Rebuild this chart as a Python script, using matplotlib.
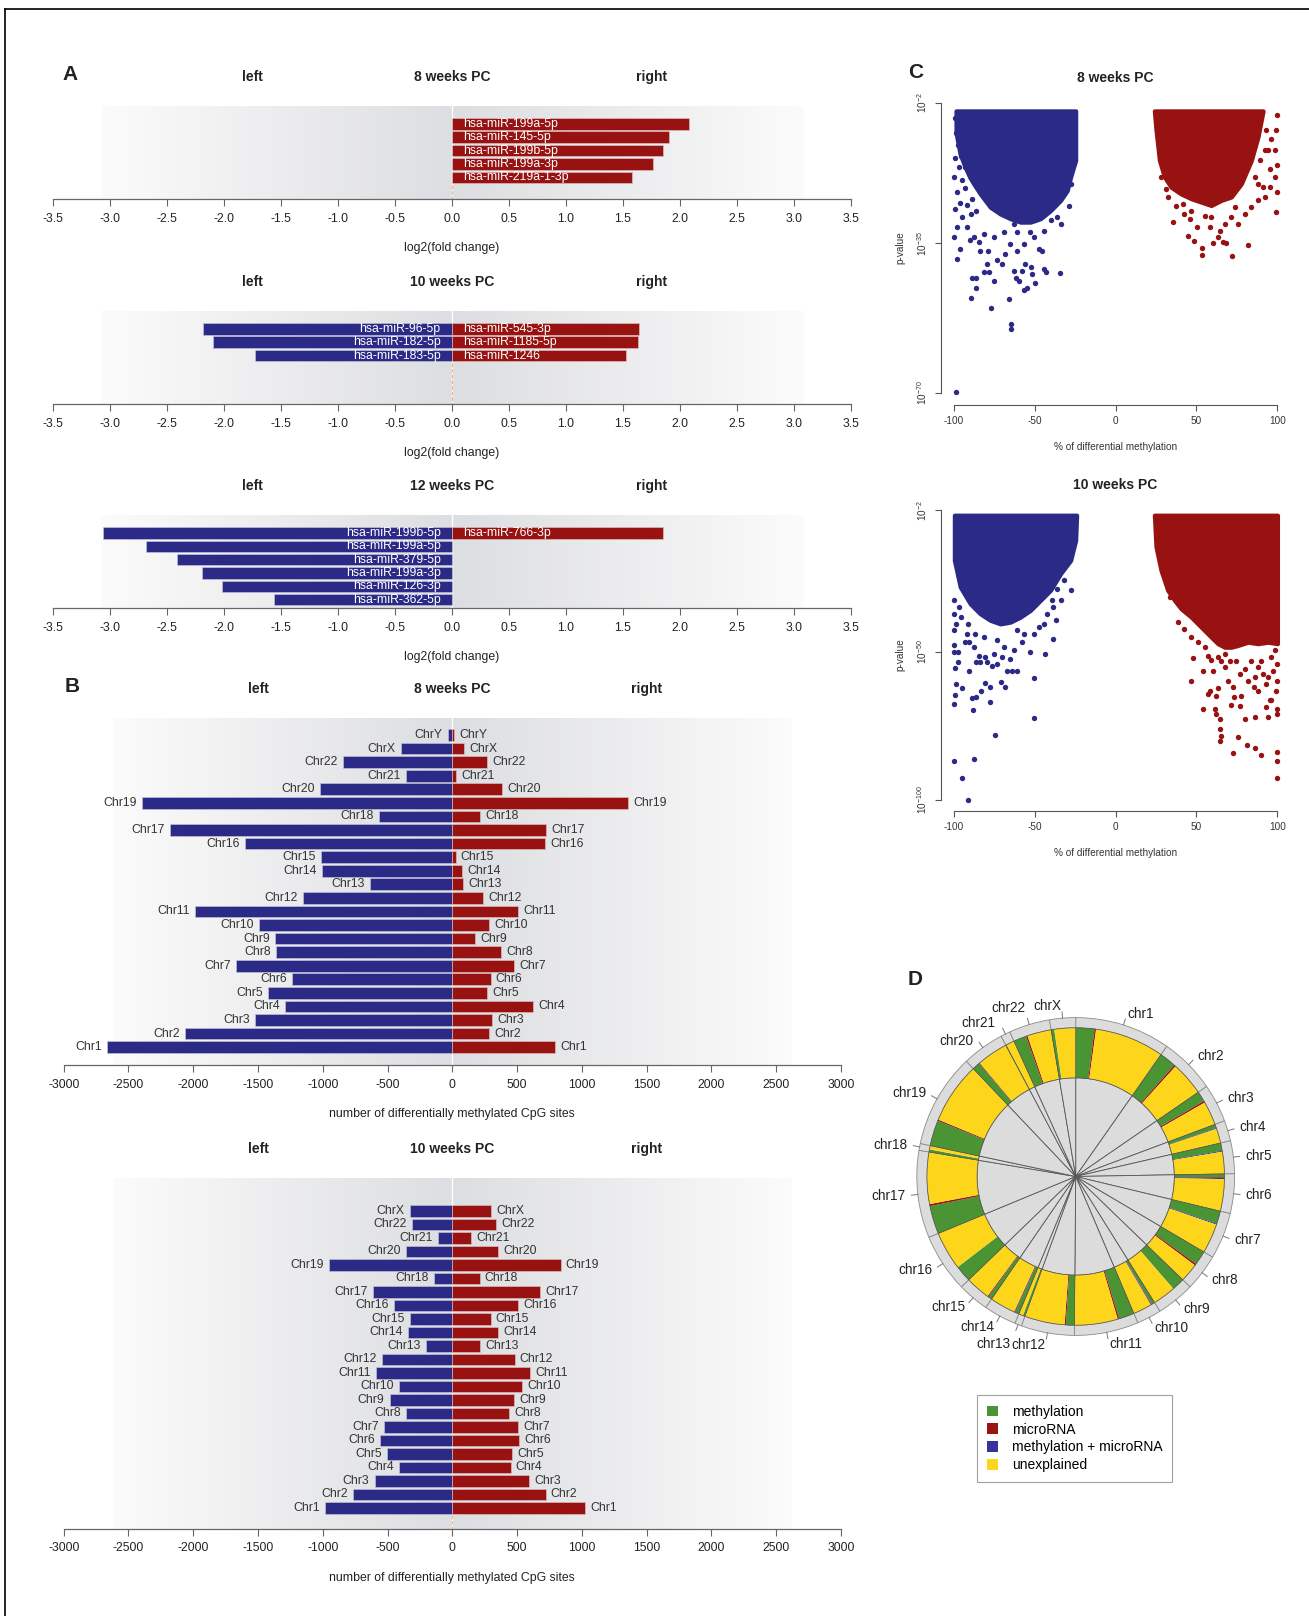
import numpy as np
import matplotlib
matplotlib.use('Agg')
import matplotlib.pyplot as plt
from matplotlib.patches import Wedge, Patch
from matplotlib.lines import Line2D

plt.rcParams['font.family'] = ['Liberation Sans', 'DejaVu Sans']
plt.rcParams['mathtext.fontset'] = 'custom'
plt.rcParams['mathtext.rm'] = 'Liberation Sans'
plt.rcParams['mathtext.it'] = 'Liberation Sans:italic'
plt.rcParams['mathtext.bf'] = 'Liberation Sans:bold'
NARROW = ['Liberation Sans Narrow', 'Liberation Sans', 'DejaVu Sans']

BLUE = '#2b2a87'
RED = '#981212'
GREEN = '#4a9434'
YELLOW = '#fdd61c'
DRED = '#9b1414'
DBLUE = '#34339a'

# ---------------- data: panel A (log2 fold change of miRNAs) ----------------
a8_left_names = []
a8_left_vals = []
a8_right_names = ['hsa-miR-199a-5p', 'hsa-miR-145-5p', 'hsa-miR-199b-5p',
                  'hsa-miR-199a-3p', 'hsa-miR-219a-1-3p']
a8_right_vals = [2.08, 1.90, 1.85, 1.76, 1.58]

a10_left_names = ['hsa-miR-96-5p', 'hsa-miR-182-5p', 'hsa-miR-183-5p']
a10_left_vals = [-2.18, -2.10, -1.73]
a10_right_names = ['hsa-miR-545-3p', 'hsa-miR-1185-5p', 'hsa-miR-1246']
a10_right_vals = [1.64, 1.63, 1.53]

a12_left_names = ['hsa-miR-199b-5p', 'hsa-miR-199a-5p', 'hsa-miR-379-5p',
                  'hsa-miR-199a-3p', 'hsa-miR-126-3p', 'hsa-miR-362-5p']
a12_left_vals = [-3.06, -2.68, -2.41, -2.19, -2.02, -1.56]
a12_right_names = ['hsa-miR-766-3p']
a12_right_vals = [1.85]

a_ticks = [-3.5, -3.0, -2.5, -2.0, -1.5, -1.0, -0.5, 0.0, 0.5, 1.0, 1.5, 2.0, 2.5, 3.0, 3.5]

# ---------------- data: panel B (differentially methylated CpG sites) ----------------
b8_chroms = ['ChrY', 'ChrX', 'Chr22', 'Chr21', 'Chr20', 'Chr19', 'Chr18', 'Chr17', 'Chr16',
             'Chr15', 'Chr14', 'Chr13', 'Chr12', 'Chr11', 'Chr10', 'Chr9', 'Chr8', 'Chr7',
             'Chr6', 'Chr5', 'Chr4', 'Chr3', 'Chr2', 'Chr1']
b8_left = [-35, -400, -845, -355, -1025, -2395, -565, -2180, -1600, -1015, -1010, -635,
           -1155, -1985, -1495, -1370, -1360, -1670, -1235, -1425, -1290, -1525, -2065, -2665]
b8_right = [15, 90, 270, 30, 385, 1355, 215, 725, 715, 25, 75, 85,
            235, 510, 285, 175, 375, 475, 295, 270, 625, 305, 285, 790]

b10_chroms = ['ChrX', 'Chr22', 'Chr21', 'Chr20', 'Chr19', 'Chr18', 'Chr17', 'Chr16',
              'Chr15', 'Chr14', 'Chr13', 'Chr12', 'Chr11', 'Chr10', 'Chr9', 'Chr8', 'Chr7',
              'Chr6', 'Chr5', 'Chr4', 'Chr3', 'Chr2', 'Chr1']
b10_left = [-330, -315, -110, -360, -950, -145, -610, -450, -330, -345, -205, -545,
            -590, -415, -485, -355, -525, -560, -505, -410, -600, -765, -980]
b10_right = [300, 335, 145, 355, 835, 210, 680, 505, 295, 355, 215, 480,
             600, 540, 475, 440, 505, 515, 460, 450, 590, 720, 1025]

b_ticks = [-3000, -2500, -2000, -1500, -1000, -500, 0, 500, 1000, 1500, 2000, 2500, 3000]

# ---------------- data: panel C (volcano-like scatter) ----------------
# dense cores: x positions, lower edge (log10 p), upper edge
c8_blue_core_x = [-98.5, -96.0, -93.0, -90.0, -87.6, -83.5, -77.3, -71.1, -64.9, -58.7,
                  -52.5, -46.3, -40.1, -33.9, -29.8, -27.7, -24.6]
c8_blue_core_lo = [-9.0, -14.0, -17.0, -19.5, -21.0, -23.4, -26.5, -28.1, -29.2, -30.0,
                   -30.0, -29.2, -27.3, -24.9, -22.6, -19.4, -15.5]
c8_red_core_x = [24.0, 25.0, 27.1, 30.2, 34.3, 40.5, 46.7, 52.9, 59.1, 65.3, 71.5, 77.7,
                 83.9, 88.0, 91.1]
c8_red_core_lo = [-4.0, -8.4, -15.5, -19.4, -21.8, -23.4, -24.5, -25.3, -26.1, -24.9,
                  -24.1, -21.0, -15.5, -10.0, -4.0]
c8_core_top = -3.9

c8_blue_pts = [(-99.0, -5.5), (-98.5, -9.0), (-97.5, -12.0), (-99.2, -15.0), (-96.5, -17.0),
               (-99.5, -19.5), (-95.0, -20.0), (-98.0, -23.0), (-96.0, -25.5), (-99.0, -27.0),
               (-93.0, -22.0), (-92.0, -26.0), (-89.0, -28.0), (-86.0, -27.5), (-88.5, -24.5),
               (-97.0, -8.0), (-95.5, -14.5), (-93.5, -11.0), (-96.5, -4.5), (-92.8, -17.0),
               (-98.3, -69.8), (-89.5, -47.9), (-77.1, -50.1), (-65.9, -48.1), (-64.3, -54.0),
               (-64.3, -55.1), (-86.4, -45.5), (-88.6, -43.1), (-85.9, -43.1), (-81.4, -41.6),
               (-77.9, -41.6), (-74.8, -43.8), (-61.6, -43.2), (-59.5, -43.8), (-56.6, -46.0),
               (-54.5, -45.5), (-51.4, -42.2), (-49.8, -44.2), (-44.2, -41.0), (-42.8, -41.8),
               (-34.3, -42.0), (-97.9, -38.7), (-95.9, -36.3), (-90.1, -34.3), (-84.5, -34.7),
               (-78.7, -36.7), (-73.1, -39.0), (-68.0, -37.5), (-60.7, -36.7), (-55.6, -39.8),
               (-52.1, -40.6), (-47.3, -36.3), (-45.2, -36.7), (-99.5, -33.6), (-97.9, -31.2),
               (-94.8, -28.8), (-91.7, -31.2), (-44.2, -32.0), (-40.1, -29.6), (-36.0, -28.8),
               (-33.9, -30.4), (-28.7, -26.1), (-27.7, -21.0), (-79.3, -39.8), (-70.0, -39.8),
               (-62.8, -41.4), (-57.6, -41.4), (-83.5, -36.7), (-64.9, -35.1), (-56.6, -35.1),
               (-50.4, -33.6), (-75.2, -33.6), (-81.4, -32.8), (-87.6, -33.6), (-69.0, -32.4),
               (-60.7, -32.4), (-52.5, -32.4), (-62.8, -30.4)]
c8_red_pts = [(35.3, -29.9), (44.6, -33.3), (48.3, -34.5), (53.5, -36.1), (53.5, -37.6),
              (71.9, -37.9), (81.8, -35.3), (63.2, -33.6), (66.3, -34.7), (60.1, -35.0),
              (68.4, -35.0), (64.3, -32.0), (58.1, -31.2), (50.4, -31.2), (45.7, -29.2),
              (42.6, -28.1), (37.4, -26.1), (41.5, -25.7), (67.4, -30.4), (71.5, -28.8),
              (75.6, -30.4), (79.8, -28.1), (83.9, -26.5), (88.0, -24.9), (92.1, -24.1),
              (99.4, -27.7), (100.0, -23.0), (98.3, -19.4), (100.0, -16.7), (95.2, -17.5),
              (98.3, -13.1), (94.2, -13.1), (99.4, -8.4), (100.0, -4.9), (96.3, -10.4),
              (93.2, -8.4), (91.1, -21.8), (88.0, -21.0), (85.9, -19.4), (89.0, -15.5),
              (92.1, -13.1), (95.2, -21.8), (59.1, -28.8), (55.0, -28.5), (73.6, -26.5),
              (31.0, -22.2), (28.1, -19.4), (32.2, -24.1), (46.7, -27.3)]

c10_blue_core_x = [-99.5, -95.9, -89.7, -83.5, -77.3, -71.1, -64.9, -58.7, -52.5, -46.3,
                   -40.1, -33.9, -27.7, -24.6, -24.0]
c10_blue_core_lo = [-19.0, -28.0, -33.7, -37.1, -39.3, -40.5, -39.9, -38.2, -35.9, -32.5,
                    -29.1, -23.5, -19.0, -12.2, -3.7]
c10_red_core_x = [24.0, 25.0, 28.1, 32.2, 36.4, 40.5, 46.7, 52.9, 59.1, 63.2, 67.4, 71.5,
                  75.6, 81.8, 88.0, 94.2, 100.0]
c10_red_core_lo = [-3.7, -14.4, -22.4, -29.1, -32.5, -35.4, -38.2, -41.6, -45.0, -47.2,
                   -48.4, -48.4, -47.8, -46.7, -47.2, -46.7, -47.2]
c10_core_top = -3.7

c10_blue_pts = [(-99.6, -86.8), (-94.6, -92.7), (-91.1, -100.0), (-87.2, -86.4), (-74.6, -78.1),
                (-50.6, -72.5), (-50.2, -58.7), (-88.2, -69.8), (-88.8, -65.6), (-86.0, -65.3),
                (-77.7, -66.8), (-99.6, -67.6), (-99.2, -64.4), (-94.6, -62.1), (-98.3, -60.8),
                (-82.9, -63.3), (-80.4, -60.5), (-77.7, -62.0), (-70.5, -60.3), (-68.0, -61.7),
                (-60.7, -56.6), (-63.8, -56.3), (-66.9, -56.5), (-73.1, -54.0), (-76.2, -54.6),
                (-79.3, -53.5), (-83.5, -53.5), (-86.0, -53.5), (-90.3, -56.5), (-99.0, -55.4),
                (-97.5, -53.5), (-99.6, -50.1), (-97.5, -50.1), (-99.6, -47.5), (-93.2, -46.7),
                (-87.2, -48.4), (-90.5, -46.7), (-84.5, -51.2), (-80.4, -51.8), (-75.2, -50.6),
                (-70.0, -51.8), (-64.9, -52.3), (-62.8, -49.5), (-69.0, -48.4), (-57.6, -46.7),
                (-52.5, -49.9), (-43.6, -50.6), (-38.6, -45.6), (-36.9, -39.3), (-38.4, -34.8),
                (-33.5, -32.5), (-27.7, -28.9), (-99.6, -42.7), (-98.3, -40.5), (-99.6, -37.1),
                (-95.5, -38.2), (-91.3, -40.5), (-99.6, -32.5), (-96.5, -34.8), (-47.3, -41.6),
                (-44.2, -40.5), (-50.4, -43.9), (-56.6, -43.9), (-60.7, -42.7), (-73.1, -46.1),
                (-81.4, -45.0), (-86.6, -43.9), (-91.7, -43.9), (-42.1, -37.1), (-39.0, -32.5),
                (-35.9, -28.6), (-31.8, -25.8)]
c10_red_pts = [(33.5, -31.4), (38.8, -39.8), (46.7, -59.8), (48.1, -52.0), (54.3, -56.3),
               (54.3, -69.4), (58.7, -52.7), (60.1, -56.3), (58.1, -63.1), (63.2, -62.3),
               (57.0, -64.2), (62.2, -64.8), (61.2, -69.3), (62.2, -71.0), (64.3, -72.7),
               (64.7, -76.1), (65.3, -78.4), (64.7, -80.3), (72.5, -84.2), (75.6, -78.9),
               (81.4, -81.5), (86.0, -82.5), (90.1, -85.0), (94.2, -71.9), (92.8, -68.7),
               (86.0, -72.1), (80.2, -72.8), (100.0, -86.8), (100.0, -84.0), (100.0, -92.8),
               (100.0, -71.0), (100.0, -69.3), (100.0, -59.7), (100.0, -54.0), (95.2, -66.3),
               (96.3, -66.3), (71.5, -68.0), (73.1, -65.3), (76.7, -68.2), (77.3, -64.9),
               (69.4, -59.7), (72.5, -62.0), (85.5, -62.0), (88.0, -63.1), (93.2, -60.8),
               (94.2, -58.6), (91.1, -57.4), (85.9, -58.6), (81.8, -59.7), (76.7, -57.4),
               (79.8, -55.7), (67.4, -55.2), (70.5, -52.9), (74.6, -52.9), (83.9, -52.9),
               (90.1, -52.9), (96.3, -51.8), (98.3, -49.5), (63.2, -51.8), (67.4, -50.6),
               (55.0, -48.4), (50.8, -46.7), (46.7, -45.0), (42.6, -42.2), (57.0, -51.2),
               (65.3, -52.9), (88.0, -55.2), (97.3, -56.3), (99.4, -63.1)]

# ---------------- data: panel D (circular summary) ----------------
chrom_names = ['chr1', 'chr2', 'chr3', 'chr4', 'chr5', 'chr6', 'chr7', 'chr8', 'chr9', 'chr10',
               'chr11', 'chr12', 'chr13', 'chr14', 'chr15', 'chr16', 'chr17', 'chr18', 'chr19',
               'chr20', 'chr21', 'chr22', 'chrX']
chrom_size = [35, 20.5, 14, 7.5, 12, 14.5, 17, 13.5, 14, 9, 23.5, 19.5, 2.5, 12, 11.5, 21.5,
              32, 2.5, 34.5, 15.5, 3.5, 15, 9.5]
part_meth = [7.3, 6.5, 4.0, 1.5, 3.0, 1.3, 5.0, 5.5, 5.0, 1.2, 6.0, 3.3, 0.8, 1.5, 1.5, 6.5,
             11.0, 1.0, 10.0, 3.0, 0.3, 5.0, 1.2]
part_mirna = [0.6, 0.7, 0.7, 0, 0, 0.3, 0, 0.7, 0, 0.2, 0.6, 0.5, 0, 0.3, 0.4, 0, 0.8, 0,
              0.5, 0.3, 0, 0.6, 0]
part_both = [0, 0, 0, 0.3, 0.4, 0.4, 0.4, 0, 0, 0.3, 0, 0, 0, 0.2, 0, 0, 0, 0, 0, 0, 0, 0, 0]
legend_labels = ['methylation', 'microRNA', 'methylation + microRNA', 'unexplained']

# ---------------- figure ----------------
W, H = 1309, 1616
fig = plt.figure(figsize=(W / 100, H / 100), dpi=100)


def px_axes(x0, y0, x1, y1):
    return fig.add_axes([x0 / W, 1 - y1 / H, (x1 - x0) / W, (y1 - y0) / H])


def shade(ax, lo, hi, ylim):
    xs = np.linspace(lo, hi, 600)
    t = np.where(xs < 0, 1 - xs / lo, 1 - xs / hi)
    white = np.array([0.985, 0.985, 0.985])
    grey = np.array([0.866, 0.870, 0.882])
    rgb = white[None, :] * (1 - t[:, None]) + grey[None, :] * t[:, None]
    ax.imshow(rgb[None, :, :], extent=(lo, hi, ylim[0], ylim[1]), aspect='auto',
              zorder=0, interpolation='bilinear')


def bar_panel(x0, x1, y_top, y_axis, xlim, shade_lim, ylim, ticks, ticklabels, title, side_x,
              xlabel, left_names, left_vals, right_names, right_vals, inside, gap, offset=0,
              n_slots=6):
    ax = px_axes(x0, y_top, x1, y_axis)
    shade(ax, -shade_lim, shade_lim, ylim)
    ax.plot([0, 0], [ylim[1], ylim[0]], color='white', lw=1.0, zorder=1)
    filled = max(len(left_vals), len(right_vals))
    if filled < n_slots:
        ax.plot([0, 0], [filled - 0.45 + offset, ylim[0]], color='#f2b58e', lw=0.9,
                dashes=(3, 1.5), zorder=1)
    ly = [i + offset for i in range(len(left_vals))]
    ry = [i + offset for i in range(len(right_vals))]
    if left_vals:
        ax.barh(ly, left_vals, height=0.86, color=BLUE, edgecolor='#c9c9dd', lw=0.4, zorder=2)
    if right_vals:
        ax.barh(ry, right_vals, height=0.86, color=RED, edgecolor='#e0c8c8', lw=0.4, zorder=2)
    for y, v, n in zip(ly, left_vals, left_names):
        if inside:
            ax.text(-gap, y, n, ha='right', va='center', color='white', fontsize=8.8,
                    family=NARROW, zorder=3)
        else:
            ax.text(v - gap, y, n, ha='right', va='center', color='#333333', fontsize=8.8,
                    family=NARROW, zorder=3)
    for y, v, n in zip(ry, right_vals, right_names):
        if inside:
            ax.text(gap, y, n, ha='left', va='center', color='white', fontsize=8.8,
                    family=NARROW, zorder=3)
        else:
            ax.text(v + gap, y, n, ha='left', va='center', color='#333333', fontsize=8.8,
                    family=NARROW, zorder=3)
    ax.set_xlim(*xlim)
    ax.set_ylim(*ylim)
    for s in ['top', 'left', 'right']:
        ax.spines[s].set_visible(False)
    ax.spines['bottom'].set_color('#666666')
    ax.spines['bottom'].set_linewidth(0.9)
    ax.set_yticks([])
    ax.set_xticks(ticks)
    ax.set_xticklabels(ticklabels, family=NARROW, fontsize=8.8, color='#222222')
    ax.tick_params(axis='x', length=5, width=0.8, color='#666666', pad=5)
    for tx, s in [(-side_x, 'left'), (0, title), (side_x, 'right')]:
        ax.annotate(s, xy=(tx, 1), xycoords=('data', 'axes fraction'),
                    xytext=(0, 29 * 0.72), textcoords='offset points', ha='center',
                    va='center', fontsize=10, fontweight='bold', family=NARROW, color='#222222')
    ax.annotate(xlabel, xy=(0, 0), xycoords=('data', 'axes fraction'),
                xytext=(0, -49 * 0.72), textcoords='offset points', ha='center',
                va='center', fontsize=8.8, family=NARROW, color='#222222')
    return ax


a_labels = ['%.1f' % t for t in a_ticks]
a_ylim = (5.62, -1.31)
for y_top, y_axis, ttl, ln, lv, rn, rv in [
        (106.2, 199.0, '8 weeks PC', a8_left_names, a8_left_vals, a8_right_names, a8_right_vals),
        (311.3, 404.0, '10 weeks PC', a10_left_names, a10_left_vals, a10_right_names, a10_right_vals),
        (515.4, 608.0, '12 weeks PC', a12_left_names, a12_left_vals, a12_right_names, a12_right_vals)]:
    bar_panel(53, 851, y_top, y_axis, (-3.5, 3.5), 3.08, a_ylim, a_ticks, a_labels, ttl, 1.75,
              'log2(fold change)', ln, lv, rn, rv, True, 0.1)

b_labels = [str(t) for t in b_ticks]
bar_panel(63.7, 841, 718.4, 1064.7, (-3000, 3000), 2620, (24.29, -1.22), b_ticks, b_labels,
          '8 weeks PC', 1500, 'number of differentially methylated CpG sites',
          b8_chroms, b8_left, b8_chroms, b8_right, False, 40, n_slots=24)
bar_panel(63.7, 841, 1178.0, 1528.5, (-3000, 3000), 2620, (24.52, -1.44), b_ticks, b_labels,
          '10 weeks PC', 1500, 'number of differentially methylated CpG sites',
          b10_chroms, b10_left, b10_chroms, b10_right, False, 40, offset=1, n_slots=24)


# ---------------- panel C ----------------
def scatter_panel(y_top, y_bot, ylim, yticks, ylabels, title, cores, pts):
    ax = px_axes(940.6, y_top, 1290.4, y_bot)
    for cx, clo, ctop, col in cores:
        ax.fill_between(cx, clo, [ctop] * len(cx), color=col, lw=3.0, edgecolor=col,
                        joinstyle='round')
    for p, col in pts:
        ax.scatter([q[0] for q in p], [q[1] for q in p], s=15, color=col, linewidths=0)
    ax.set_xlim(-108, 108)
    ax.set_ylim(*ylim)
    for s in ['top', 'right']:
        ax.spines[s].set_visible(False)
    for s in ['left', 'bottom']:
        ax.spines[s].set_color('#555555')
        ax.spines[s].set_linewidth(0.8)
    ax.spines['left'].set_bounds(yticks[-1], yticks[0])
    ax.spines['bottom'].set_bounds(-100, 100)
    ax.set_xticks([-100, -50, 0, 50, 100])
    ax.set_xticklabels(['-100', '-50', '0', '50', '100'], fontsize=7.2, color='#333333')
    ax.set_yticks(yticks)
    ax.set_yticklabels(ylabels, fontsize=7.2, color='#333333', rotation=90, va='center')
    ax.tick_params(length=4, width=0.8, color='#555555', pad=4)
    ax.annotate(title, xy=(0, 1), xycoords=('data', 'axes fraction'),
                xytext=(0, 22 * 0.72), textcoords='offset points', ha='center',
                va='center', fontsize=10, fontweight='bold', color='#222222')
    ax.annotate('% of differential methylation', xy=(0, 0), xycoords=('data', 'axes fraction'),
                xytext=(0, -42 * 0.72), textcoords='offset points', ha='center',
                va='center', fontsize=7.2, color='#333333')
    ax.annotate('p-value', xy=(0, (yticks[0] + yticks[-1]) / 2), xycoords=('axes fraction', 'data'),
                xytext=(-40 * 0.72, 0), textcoords='offset points', ha='center',
                va='center', fontsize=7.2, rotation=90, color='#333333')
    return ax


scatter_panel(99.8, 405.0, (-72.9, -1.3), [-2, -35, -70],
              [r'$10^{-2}$', r'$10^{-35}$', r'$10^{-70}$'], '8 weeks PC',
              [(c8_blue_core_x, c8_blue_core_lo, c8_core_top, BLUE),
               (c8_red_core_x, c8_red_core_lo, c8_core_top, RED)],
              [(c8_blue_pts, BLUE), (c8_red_pts, RED)])
scatter_panel(507.2, 811.2, (-103.9, -1.0), [-2, -50, -100],
              [r'$10^{-2}$', r'$10^{-50}$', r'$10^{-100}$'], '10 weeks PC',
              [(c10_blue_core_x, c10_blue_core_lo, c10_core_top, BLUE),
               (c10_red_core_x, c10_red_core_lo, c10_core_top, RED)],
              [(c10_blue_pts, BLUE), (c10_red_pts, RED)])

# ---------------- panel D ----------------
dax = px_axes(861.2, 962.0, 1290.2, 1391.0)
r_out, r_ring, r_in = 1.0, 0.936, 0.621
label_nudge = {'chr13': (-0.02, -0.05), 'chr20': (-0.015, -0.02),
               'chr21': (-0.03, 0.0), 'chr22': (0.0, 0.035)}
start = 0.0
for i, name in enumerate(chrom_names):
    span = chrom_size[i]
    a0, a1 = start, start + span
    dax.add_patch(Wedge((0, 0), r_out, 90 - a1, 90 - a0, width=r_out - r_ring,
                        fc='#dcdcdd', ec='#8a8a8a', lw=0.6))
    dax.add_patch(Wedge((0, 0), r_in, 90 - a1, 90 - a0, fc='#dcdcdd', ec='#555555', lw=0.6))
    parts = [part_meth[i], part_mirna[i], part_both[i],
             span - part_meth[i] - part_mirna[i] - part_both[i]]
    s = a0
    for w, c in zip(parts, [GREEN, DRED, DBLUE, YELLOW]):
        if w > 0:
            dax.add_patch(Wedge((0, 0), r_ring, 90 - (s + w), 90 - s, width=r_ring - r_in,
                                fc=c, ec='none'))
        s += w
    dax.add_patch(Wedge((0, 0), r_ring, 90 - a1, 90 - a0, width=r_ring - r_in,
                        fc='none', ec='#555555', lw=0.5))
    mid = np.deg2rad(a0 + span / 2)
    sx, cy = np.sin(mid), np.cos(mid)
    dax.plot([r_out * sx, 1.04 * sx], [r_out * cy, 1.04 * cy], color='#777777', lw=0.7)
    ha = 'left' if sx > 0.05 else ('right' if sx < -0.05 else 'center')
    ndx, ndy = label_nudge.get(name, (0.0, 0.0))
    dax.text(1.075 * sx + ndx, 1.075 * cy + ndy, name, ha=ha, va='center', fontsize=9.8,
             color='#222222')
    start = a1
dax.set_xlim(-1.35, 1.35)
dax.set_ylim(-1.35, 1.35)
dax.set_aspect('equal')
dax.axis('off')

handles = [Patch(facecolor=c, edgecolor='none') for c in [GREEN, DRED, DBLUE, YELLOW]]
leg = fig.legend(handles, legend_labels, loc='upper left', bbox_to_anchor=(977 / W, 1 - 1395 / H),
                 frameon=True, fancybox=False, edgecolor='#888888', fontsize=10,
                 handlelength=0.8, handleheight=0.8, labelspacing=0.28, handletextpad=1.0,
                 borderpad=0.7, borderaxespad=0)
leg.get_frame().set_linewidth(0.8)

# ---------------- panel letters and frame ----------------
for x, y, s in [(70, 74, 'A'), (72, 687, 'B'), (916, 73, 'C'), (915, 979, 'D')]:
    fig.text(x / W, 1 - y / H, s, fontsize=15, fontweight='bold', ha='center', va='center',
             color='#222222')
fig.add_artist(Line2D([5 / W, 1], [1 - 9.3 / H, 1 - 9.3 / H], color='black', lw=1.2))
fig.add_artist(Line2D([5 / W, 5 / W], [1 - 9.3 / H, 0], color='black', lw=1.2))

fig.savefig('out.png', dpi=100)
